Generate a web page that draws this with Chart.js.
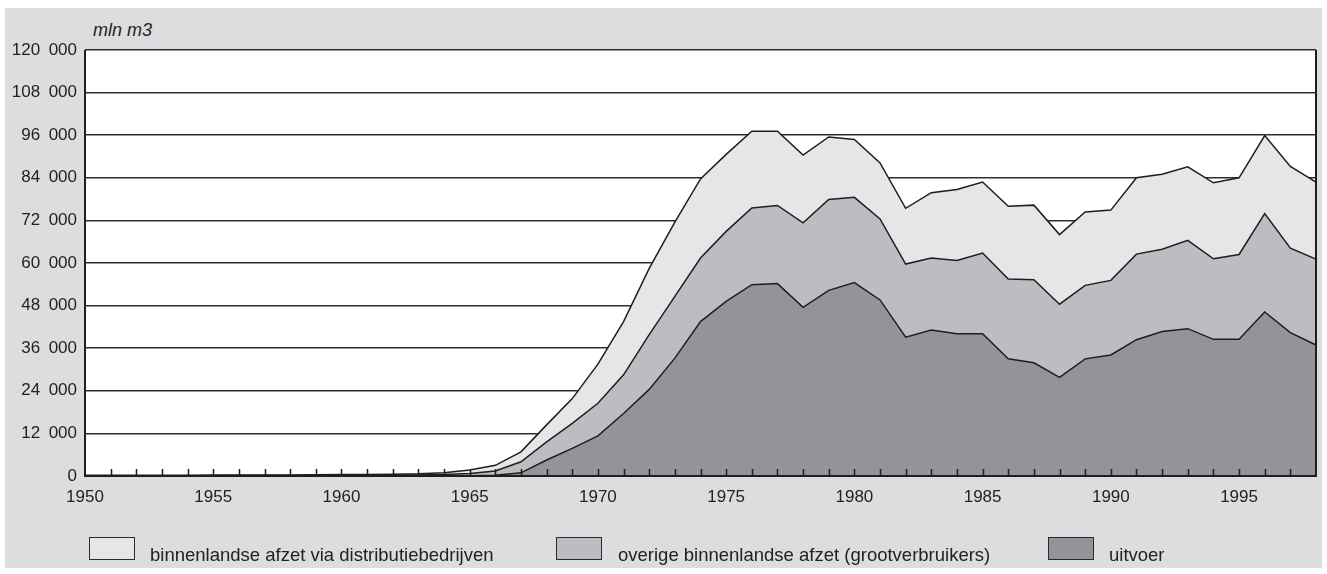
<!DOCTYPE html>
<html>
<head>
<meta charset="utf-8">
<script src="https://cdn.jsdelivr.net/npm/chart.js@4.4.0/dist/chart.umd.min.js"></script>
<style>
  html, body { margin: 0; padding: 0; background: #fff; }
  #frame { position: absolute; left: 5px; top: 8px; width: 1317px; height: 560px; background: #dcdddf; }
  #wrap { position: absolute; left: 0; top: 0; width: 1327px; height: 574px; }
  #unit { position: absolute; left: 93px; top: 20px; line-height: 1; font: italic 18px "Liberation Sans", Arial, sans-serif; color: #222; }
  .lg-box { position: absolute; top: 537px; width: 44px; height: 21px; border: 1.5px solid #2a2a2a; }
  .lg-text { position: absolute; top: 544px; line-height: 1; font: 18.5px "Liberation Sans", Arial, sans-serif; color: #222; white-space: nowrap; }
</style>
</head>
<body>
<div id="frame"></div>
<div id="unit">mln m3</div>
<div id="wrap"><canvas id="gasChart" width="1327" height="574"></canvas></div>
<div id="legend"></div>
<script>
  "use strict";

  // Years 1950-1998
  const years = [];
  for (let y = 1950; y <= 1998; y++) years.push(y);

  // mln m3
  const uitvoer = [
    0, 0, 0, 0, 0, 0, 0, 0, 0, 0, 0, 0, 0, 0, 0,
    50, 200, 900, 4500, 7800, 11300, 17600, 24400, 33200, 43500,
    49200, 53900, 54200, 47500, 52300, 54500, 49600, 39100, 41100, 40100,
    40100, 33000, 31900, 27800, 33000, 34100, 38400, 40700, 41500, 38500,
    38500, 46200, 40400, 36900,
  ];
  const overige = [
    100, 100, 100, 100, 100, 100, 150, 150, 150, 200, 200, 200, 250, 300, 400,
    650, 1200, 3100, 5100, 7000, 9200, 10900, 15400, 17400, 17900,
    19700, 21600, 22000, 23800, 25600, 24000, 22800, 20600, 20300, 20600,
    22700, 22500, 23400, 20600, 20700, 21000, 24100, 23200, 24900, 22700,
    23900, 27700, 23800, 24200,
  ];
  const distributie = [
    100, 100, 100, 100, 100, 150, 150, 150, 150, 150, 200, 250, 250, 300, 500,
    1000, 1600, 2800, 4800, 7000, 11000, 15000, 18700, 20900, 22300,
    21700, 21600, 20900, 19100, 17600, 16300, 15800, 15700, 18400, 20000,
    20000, 20500, 21000, 19600, 20700, 19800, 21500, 21100, 20700, 21400,
    21600, 22000, 23000, 21700,
  ];

  const seriesNames = [
    "binnenlandse afzet via distributiebedrijven",
    "overige binnenlandse afzet (grootverbruikers)",
    "uitvoer",
  ];
  const seriesColors = ["#e5e6e8", "#bcbdc0", "#939498"];

  const yMax = 120000;
  const yStep = 12000;

  const font = "'Liberation Sans', Arial, sans-serif";
  const ink = "#222";

  // legend (HTML, fixed positions)
  const legendPos = [
    { box: 89, text: 150 },
    { box: 556, text: 618 },
    { box: 1048, text: 1109 },
  ];
  const legendEl = document.getElementById("legend");
  seriesNames.forEach(function (name, i) {
    const b = document.createElement("div");
    b.className = "lg-box";
    b.style.left = legendPos[i].box + "px";
    b.style.background = seriesColors[i];
    const t = document.createElement("div");
    t.className = "lg-text";
    t.style.left = legendPos[i].text + "px";
    t.textContent = name;
    legendEl.appendChild(b);
    legendEl.appendChild(t);
  });

  // thousands separated by an en space, as in the original
  function fmt(v) {
    return String(v).replace(/\B(?=(\d{3})+(?!\d))/g, "\u2002");
  }

  // white plot background + frame and inward year ticks
  const plotDecor = {
    id: "plotDecor",
    beforeDraw: function (chart) {
      const a = chart.chartArea;
      const c = chart.ctx;
      c.save();
      c.fillStyle = "#fff";
      c.fillRect(a.left, a.top, a.right - a.left, a.bottom - a.top);
      c.restore();
    },
    afterDatasetsDraw: function (chart) {
      const a = chart.chartArea;
      const c = chart.ctx;
      const xs = chart.scales.x;
      c.save();
      c.strokeStyle = "#1e1e1e";
      c.lineWidth = 1.5;
      c.beginPath();
      for (let i = 1; i < years.length - 1; i++) {
        const px = Math.round(xs.getPixelForValue(i)) + 0.5;
        c.moveTo(px, a.bottom);
        c.lineTo(px, a.bottom - 7);
      }
      c.stroke();
      c.lineWidth = 2;
      c.beginPath();
      c.moveTo(a.left, a.top);
      c.lineTo(a.left, a.bottom);
      c.lineTo(a.right, a.bottom);
      c.lineTo(a.right, a.top);
      c.stroke();
      c.restore();
    },
  };

  const ctx = document.getElementById("gasChart").getContext("2d");

  function ds(label, data, color, fill) {
    return {
      label: label,
      data: data,
      backgroundColor: color,
      borderColor: "#1e1e1e",
      borderWidth: 1.5,
      pointRadius: 0,
      tension: 0,
      fill: fill,
    };
  }

  new Chart(ctx, {
    type: "line",
    data: {
      labels: years,
      datasets: [
        ds(seriesNames[2], uitvoer, seriesColors[2], "origin"),
        ds(seriesNames[1], overige, seriesColors[1], "-1"),
        ds(seriesNames[0], distributie, seriesColors[0], "-1"),
      ],
    },
    options: {
      responsive: false,
      animation: false,
      layout: { padding: { left: 5, top: 50, right: 11, bottom: 68 } },
      plugins: {
        legend: { display: false },
        tooltip: { enabled: false },
      },
      scales: {
        x: {
          offset: false,
          grid: { display: false },
          border: { display: false },
          ticks: {
            autoSkip: false,
            maxRotation: 0,
            padding: 3,
            color: ink,
            font: { family: font, size: 17 },
            callback: function (value) {
              const yr = years[value];
              return yr % 5 === 0 ? String(yr) : "";
            },
          },
          afterFit: function (scale) {
            scale.height = 30;
          },
        },
        y: {
          stacked: true,
          min: 0,
          max: yMax,
          grid: { color: "#2e2e2e", lineWidth: 1.5, drawTicks: false },
          border: { display: false },
          ticks: {
            stepSize: yStep,
            padding: 8,
            color: ink,
            font: { family: font, size: 17 },
            callback: function (v) {
              return fmt(v);
            },
          },
          afterFit: function (scale) {
            scale.width = 80;
          },
        },
      },
    },
    plugins: [plotDecor],
  });
</script>
</body>
</html>
